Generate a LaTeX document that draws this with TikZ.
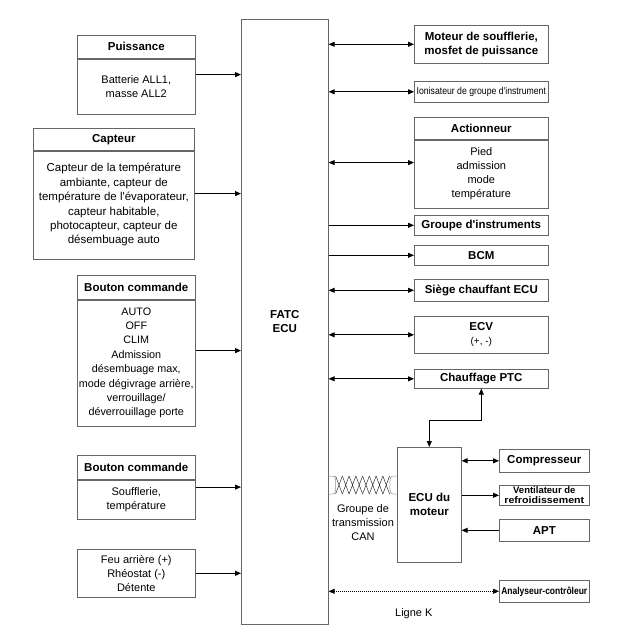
\documentclass[tikz,border=0pt]{standalone}
\usepackage{fontspec}
\setmainfont{Liberation Sans}
\usepackage{graphicx}
\usetikzlibrary{arrows.meta,calc}

\begin{document}
\begin{tikzpicture}[x=1pt,y=-1pt,
	box/.style={draw=black!60, line width=0.6pt, inner sep=1pt, align=center, anchor=north west, font=\fontsize{11}{14}\selectfont},
	head/.style={box, font=\bfseries\fontsize{11.5}{14}\selectfont},
	arr/.style={-{Triangle[length=6pt,width=5pt]}, line width=0.75pt},
	dbl/.style={{Triangle[length=6pt,width=5pt]}-{Triangle[length=6pt,width=5pt]}, line width=0.75pt}]
		\useasboundingbox (0,0) rectangle (622,636);

		% central unit
		\node[head, minimum width=87, minimum height=605] (fatc) at (241,19) {FATC\\ECU};

		% inputs
		\node[head, minimum width=118, minimum height=23] (pwrh) at (77,35) {Puissance};
		\node[box, minimum width=118, minimum height=55] (pwr) at (pwrh.south west) {Batterie ALL1,\\masse ALL2};

		\node[head, minimum width=161, minimum height=22] (caph) at (33,128) {Capteur};
		\node[box, minimum width=161, minimum height=108, font=\fontsize{11.5}{14.4}\selectfont] (cap) at (caph.south west) {Capteur de la temp\'erature\\ambiante, capteur de\\temp\'erature de l\textquotesingle\'evaporateur,\\capteur habitable,\\photocapteur, capteur de\\d\'esembuage auto};

		\node[head, minimum width=118, minimum height=24] (btnh) at (77,275) {Bouton commande};
		\node[box, minimum width=118, minimum height=126, inner sep=0pt, font=\fontsize{10.8}{14.4}\selectfont] (btn) at (btnh.south west) {AUTO\\OFF\\CLIM\\Admission\\d\'esembuage max,\\mode d\'egivrage arri\`ere,\\verrouillage/\\d\'everrouillage porte};

		\node[head, minimum width=118, minimum height=24] (souh) at (77,455) {Bouton commande};
		\node[box, minimum width=118, minimum height=39] (sou) at (souh.south west) {Soufflerie,\\temp\'erature};

		\node[box, minimum width=118, minimum height=48] (feu) at (77,549) {Feu arri\`ere (+)\\Rh\'eostat (-)\\D\'etente};

		% outputs
		\node[head, minimum width=134, minimum height=38] (mot) at (414,25) {Moteur de soufflerie,\\mosfet de puissance};
		\node[box, minimum width=134, minimum height=21] (ion) at (414,81) {\scalebox{0.87}[1]{\fontsize{10}{12}\selectfont Ionisateur de groupe d\textquotesingle instrument}};
		\node[head, minimum width=134, minimum height=22] (acth) at (414,117) {Actionneur};
		\node[box, minimum width=134, minimum height=68] (act) at (acth.south west) {Pied\\admission\\mode\\temp\'erature};
		\node[head, minimum width=134, minimum height=20] (grp) at (414,215) {Groupe d\textquotesingle instruments};
		\node[head, minimum width=134, minimum height=20] (bcm) at (414,245) {BCM};
		\node[head, minimum width=134, minimum height=22] (sie) at (414,279) {Si\`ege chauffant ECU};
		\node[head, minimum width=134, minimum height=37] (ecv) at (414,316) {ECV\\{\mdseries\fontsize{10}{12}\selectfont (+, -)}};
		\node[head, minimum width=134, minimum height=19] (ptc) at (414,369) {Chauffage PTC};

		% engine unit
		\node[head, minimum width=64, minimum height=115] (ecu) at (397,447) {ECU du\\moteur};
		\node[head, minimum width=90, minimum height=23] (comp) at (499,449) {Compresseur};
		\node[head, minimum width=90, minimum height=20, font=\bfseries\fontsize{9.5}{10}\selectfont] (vent) at (499,485) {Ventilateur de\\\scalebox{1.12}[1]{refroidissement}};
		\node[head, minimum width=90, minimum height=22] (apt) at (499,519) {APT};
		\node[box, minimum width=90, minimum height=22] (ana) at (499,580) {\scalebox{0.85}[1]{\bfseries\fontsize{10}{12}\selectfont Analyseur-contr\^oleur}};

		% input arrows
		\coordinate (pwrm) at ($(pwrh.north east)!.5!(pwr.south east)$);
		\coordinate (capm) at ($(caph.north east)!.5!(cap.south east)$);
		\coordinate (btnm) at ($(btnh.north east)!.5!(btn.south east)$);
		\coordinate (soum) at ($(souh.north east)!.5!(sou.south east)$);
		\draw[arr] (pwrm) -- (pwrm -| fatc.west);
		\draw[arr] (capm) -- (capm -| fatc.west);
		\draw[arr] (btnm) -- (btnm -| fatc.west);
		\draw[arr] (soum) -- (soum -| fatc.west);
		\draw[arr] (feu.east) -- (feu.east -| fatc.west);

		% output arrows
		\coordinate (actm) at ($(acth.north west)!.5!(act.south west)$);
		\draw[dbl] (mot.west -| fatc.east) -- (mot.west);
		\draw[dbl] (ion.west -| fatc.east) -- (ion.west);
		\draw[dbl] (actm -| fatc.east) -- (actm);
		\draw[arr] (grp.west -| fatc.east) -- (grp.west);
		\draw[arr] (bcm.west -| fatc.east) -- (bcm.west);
		\draw[dbl] (sie.west -| fatc.east) -- (sie.west);
		\draw[dbl] (ecv.west -| fatc.east) -- (ecv.west);
		\draw[dbl] (ptc.west -| fatc.east) -- (ptc.west);
		\draw[dbl] (ptc.south) -- ++(0,32) -| (ecu.north);

		\draw[dbl] (comp.west -| ecu.east) -- (comp.west);
		\draw[arr] (vent.west -| ecu.east) -- (vent.west);
		\draw[arr] (apt.west) -- (apt.west -| ecu.east);
		\draw[dbl, dash pattern=on 1pt off 1pt] (ana.west -| fatc.east) -- node[below=14pt, font=\fontsize{11}{14}\selectfont] (lignek) {Ligne K} (ana.west);

		% CAN bus
		\coordinate (canl) at (fatc.east |- 0,485);
		\coordinate (canr) at (ecu.west |- 0,485);
		\draw[black!45, line width=0.5pt] ($(canl)+(0,-9)$) -- ++(4,0) to[out=0,in=90] ++(3,9) to[out=-90,in=0] ++(-3,9) -- ++(-4,0);
		\draw[black!45, line width=0.5pt] ($(canr)+(0,-9)$) -- ++(-4,0) to[out=180,in=90] ++(-3,9) to[out=-90,in=180] ++(3,9) -- ++(4,0);
		\foreach \i in {0,...,7}
			\draw[black!85, line width=0.45pt] ($(canl)+(7+\i*6.75,-9)$) -- ++(6.75,18) ++(0,-18) -- ++(-6.75,18);
		\node[font=\fontsize{11}{14}\selectfont, align=center] (canlbl) at (363,523) {Groupe de\\transmission\\CAN};

	\end{tikzpicture}
\end{document}
